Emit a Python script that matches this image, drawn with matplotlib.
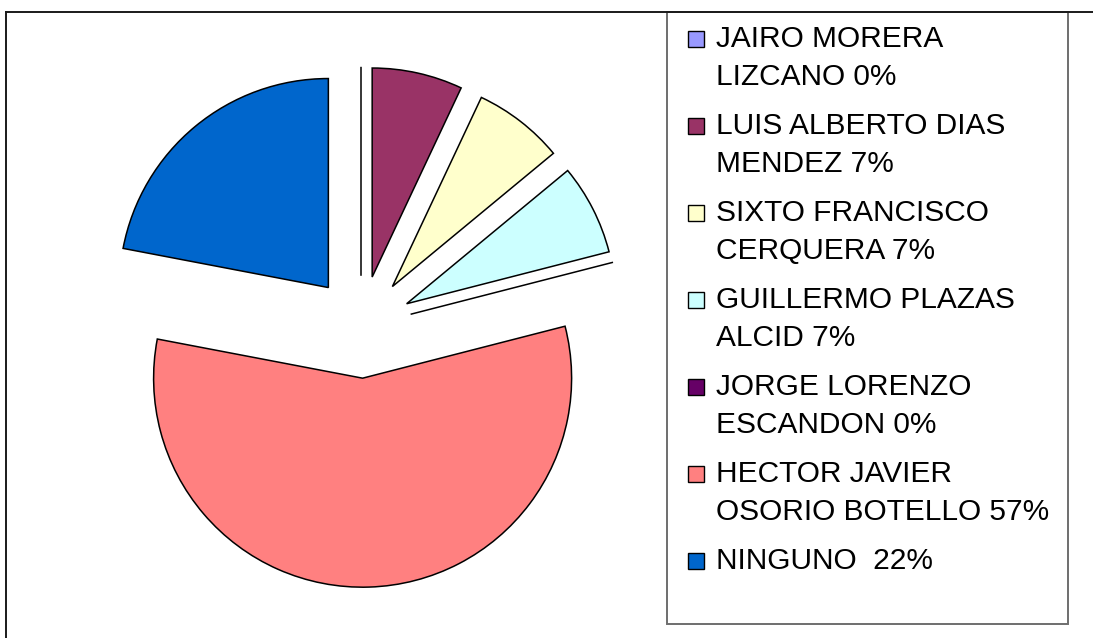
import matplotlib
matplotlib.use("Agg")
import matplotlib.pyplot as plt
from matplotlib.patches import Rectangle
from matplotlib.lines import Line2D

# candidates, share of votes (%)
names = ["JAIRO MORERA\nLIZCANO", "LUIS ALBERTO DIAS\nMENDEZ", "SIXTO FRANCISCO\nCERQUERA",
         "GUILLERMO PLAZAS\nALCID", "JORGE LORENZO\nESCANDON", "HECTOR JAVIER\nOSORIO BOTELLO",
         "NINGUNO "]
shares = [0, 7, 7, 7, 0, 57, 22]
colors = ["#9999FF", "#993366", "#FFFFCC", "#CCFFFF", "#660066", "#FF8080", "#0066CC"]

W, H = 1093, 638
fig = plt.figure(figsize=(W / 100, H / 100), dpi=100)

# pie axes: left part of the frame, 1 data unit = pie radius (209 px)
R = 209.0
cx, cy = 361.0, 327.0
x0, x1, y0, y1 = 6, 667, 12, 638
ax = fig.add_axes([x0 / W, 1 - y1 / H, (x1 - x0) / W, (y1 - y0) / H])
wedges, _ = ax.pie(shares, colors=colors, startangle=90, counterclock=False,
                   explode=[0.245] * len(shares), radius=1,
                   wedgeprops=dict(edgecolor="black", linewidth=1.1))
ax.set_aspect("auto")
ax.set_xlim((x0 - cx) / R, (x1 - cx) / R)
ax.set_ylim((cy - y1) / R, (cy - y0) / R)
ax.axis("off")

# outer frame (top and left edges)
fig.add_artist(Line2D([x0 / W, 1], [1 - y0 / H, 1 - y0 / H], transform=fig.transFigure,
                      color="#1a1a1a", lw=1.4))
fig.add_artist(Line2D([x0 / W, x0 / W], [0, 1 - y0 / H], transform=fig.transFigure,
                      color="#1a1a1a", lw=1.4))

# legend box
lx0, lx1, ly1 = 667, 1068, 624
fig.add_artist(Rectangle((lx0 / W, 1 - ly1 / H), (lx1 - lx0) / W, (ly1 - y0) / H,
                         transform=fig.transFigure, facecolor="none",
                         edgecolor="#6e6e6e", lw=1.4))

# legend entries
fs = 21.5
for i, (name, pct, col) in enumerate(zip(names, shares, colors)):
    base = 47 + 87 * i
    sq = 16
    fig.add_artist(Rectangle((688 / W, 1 - base / H), sq / W, sq / H,
                             transform=fig.transFigure, facecolor=col,
                             edgecolor="black", lw=1.0))
    lines = (name + " " + f"{pct}%").split("\n")
    for j, line in enumerate(lines):
        fig.text(716 / W, 1 - (base + 38 * j) / H, line, fontsize=fs,
                 family="Liberation Sans", va="baseline", ha="left", color="black")

fig.savefig("out.png", dpi=100)
